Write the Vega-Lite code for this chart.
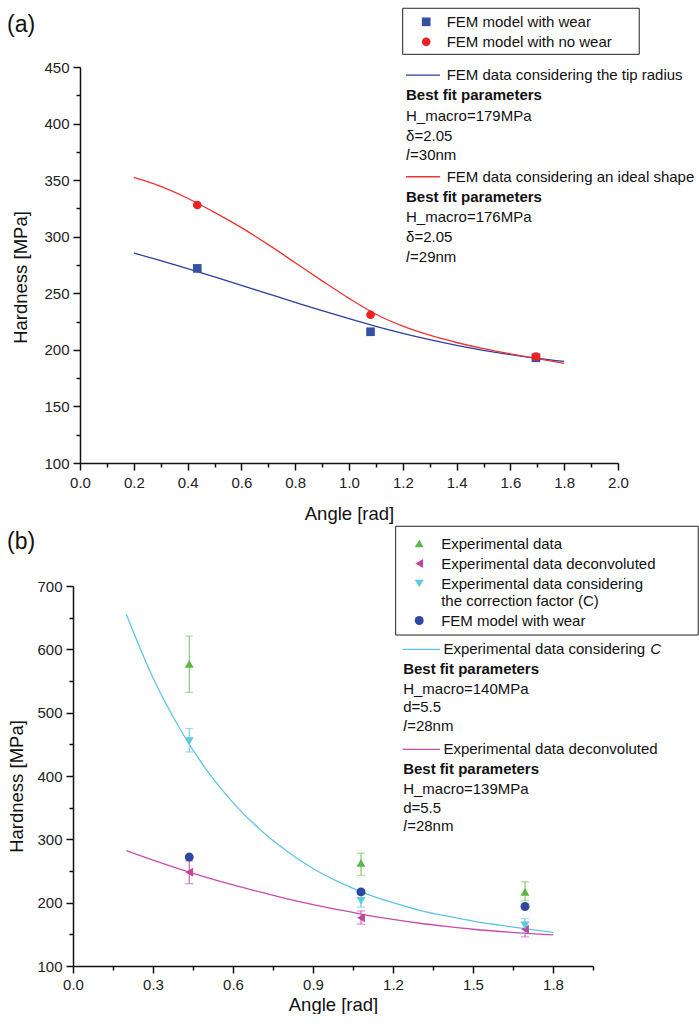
{
  "$schema": "https://vega.github.io/schema/vega-lite/v6.json",
  "padding": {"left": 7, "top": 7, "right": 0, "bottom": 0},
  "columns": 1,
  "spacing": 2,
  "resolve": {
    "scale": {"color": "independent", "shape": "independent", "stroke": "independent", "fill": "independent"},
    "legend": {"color": "independent", "shape": "independent"}
  },
  "datasets": {
    "fitA": [
      {"x": 0.2, "h": 285.5, "curve": "tip"}, {"x": 0.3, "h": 278.8, "curve": "tip"}, {"x": 0.4, "h": 271.8, "curve": "tip"},
      {"x": 0.5, "h": 264.5, "curve": "tip"}, {"x": 0.6, "h": 257.0, "curve": "tip"}, {"x": 0.7, "h": 249.5, "curve": "tip"},
      {"x": 0.8, "h": 242.0, "curve": "tip"}, {"x": 0.9, "h": 234.6, "curve": "tip"}, {"x": 1.0, "h": 227.5, "curve": "tip"},
      {"x": 1.1, "h": 220.8, "curve": "tip"}, {"x": 1.2, "h": 214.6, "curve": "tip"}, {"x": 1.3, "h": 209.0, "curve": "tip"},
      {"x": 1.4, "h": 204.0, "curve": "tip"}, {"x": 1.5, "h": 199.6, "curve": "tip"}, {"x": 1.6, "h": 195.8, "curve": "tip"},
      {"x": 1.7, "h": 192.5, "curve": "tip"}, {"x": 1.8, "h": 189.8, "curve": "tip"},
      {"x": 0.2, "h": 352.4, "curve": "ideal"}, {"x": 0.3, "h": 344.5, "curve": "ideal"}, {"x": 0.4, "h": 334.0, "curve": "ideal"},
      {"x": 0.5, "h": 321.5, "curve": "ideal"}, {"x": 0.6, "h": 308.0, "curve": "ideal"}, {"x": 0.7, "h": 293.0, "curve": "ideal"},
      {"x": 0.8, "h": 277.0, "curve": "ideal"}, {"x": 0.9, "h": 261.0, "curve": "ideal"}, {"x": 1.0, "h": 245.5, "curve": "ideal"},
      {"x": 1.1, "h": 231.5, "curve": "ideal"}, {"x": 1.2, "h": 221.0, "curve": "ideal"}, {"x": 1.3, "h": 213.0, "curve": "ideal"},
      {"x": 1.4, "h": 206.5, "curve": "ideal"}, {"x": 1.5, "h": 201.0, "curve": "ideal"}, {"x": 1.6, "h": 196.5, "curve": "ideal"},
      {"x": 1.7, "h": 192.3, "curve": "ideal"}, {"x": 1.8, "h": 188.0, "curve": "ideal"}
    ],
    "ptsA": [
      {"x": 0.436, "h": 272, "series": "FEM model with wear"},
      {"x": 1.08, "h": 216, "series": "FEM model with wear"},
      {"x": 1.695, "h": 193, "series": "FEM model with wear"},
      {"x": 0.436, "h": 328, "series": "FEM model with no wear"},
      {"x": 1.08, "h": 231, "series": "FEM model with no wear"},
      {"x": 1.695, "h": 194, "series": "FEM model with no wear"}
    ],
    "boxA": [{"x": 1.1996, "x2": 2.0789, "h": 501.9, "h2": 461.2}],
    "keyA": [
      {"x": 1.212, "x2": 1.338, "h": 442.9, "curve": "tip"},
      {"x": 1.212, "x2": 1.338, "h": 353.0, "curve": "ideal"}
    ],
    "textA": [
      {"x": 1.363, "h": 442.9, "t": "FEM data considering the tip radius", "s": "normal"},
      {"x": 1.212, "h": 425.0, "t": "Best fit parameters", "s": "bold"},
      {"x": 1.212, "h": 406.7, "t": "H_macro=179MPa", "s": "normal"},
      {"x": 1.212, "h": 389.0, "t": "δ=2.05", "s": "normal"},
      {"x": 1.212, "h": 372.2, "t": "l", "s": "ital"},
      {"x": 1.212, "h": 372.2, "t": "=30nm", "s": "post"},
      {"x": 1.363, "h": 353.0, "t": "FEM data considering an ideal shape", "s": "normal"},
      {"x": 1.212, "h": 335.4, "t": "Best fit parameters", "s": "bold"},
      {"x": 1.212, "h": 317.4, "t": "H_macro=176MPa", "s": "normal"},
      {"x": 1.212, "h": 299.7, "t": "δ=2.05", "s": "normal"},
      {"x": 1.212, "h": 282.1, "t": "l", "s": "ital"},
      {"x": 1.212, "h": 282.1, "t": "=29nm", "s": "post"},
      {"x": -0.271, "h": 487, "t": "(a)", "s": "panel"}
    ],
    "fitB": [
      {"x": 0.2, "h": 655, "curve": "fitC"}, {"x": 0.3, "h": 555, "curve": "fitC"}, {"x": 0.4, "h": 475, "curve": "fitC"},
      {"x": 0.5, "h": 410, "curve": "fitC"}, {"x": 0.6, "h": 358, "curve": "fitC"}, {"x": 0.7, "h": 316, "curve": "fitC"},
      {"x": 0.8, "h": 282, "curve": "fitC"}, {"x": 0.9, "h": 254, "curve": "fitC"}, {"x": 1.0, "h": 232, "curve": "fitC"},
      {"x": 1.1, "h": 214, "curve": "fitC"}, {"x": 1.2, "h": 200, "curve": "fitC"}, {"x": 1.3, "h": 188, "curve": "fitC"},
      {"x": 1.4, "h": 179, "curve": "fitC"}, {"x": 1.5, "h": 171, "curve": "fitC"}, {"x": 1.6, "h": 164.5, "curve": "fitC"},
      {"x": 1.7, "h": 158.5, "curve": "fitC"}, {"x": 1.8, "h": 153, "curve": "fitC"},
      {"x": 0.2, "h": 282, "curve": "fitD"}, {"x": 0.3, "h": 267, "curve": "fitD"}, {"x": 0.4, "h": 253, "curve": "fitD"},
      {"x": 0.5, "h": 240, "curve": "fitD"}, {"x": 0.6, "h": 228, "curve": "fitD"}, {"x": 0.7, "h": 217, "curve": "fitD"},
      {"x": 0.8, "h": 206.5, "curve": "fitD"}, {"x": 0.9, "h": 197, "curve": "fitD"}, {"x": 1.0, "h": 188.5, "curve": "fitD"},
      {"x": 1.1, "h": 180.5, "curve": "fitD"}, {"x": 1.2, "h": 173.5, "curve": "fitD"}, {"x": 1.3, "h": 167.5, "curve": "fitD"},
      {"x": 1.4, "h": 162.5, "curve": "fitD"}, {"x": 1.5, "h": 158, "curve": "fitD"}, {"x": 1.6, "h": 154.5, "curve": "fitD"},
      {"x": 1.7, "h": 151.5, "curve": "fitD"}, {"x": 1.8, "h": 149, "curve": "fitD"}
    ],
    "ptsB": [
      {"x": 0.436, "h": 577, "lo": 532, "hi": 621, "series": "Experimental data"},
      {"x": 1.08, "h": 263, "lo": 243, "hi": 278, "series": "Experimental data"},
      {"x": 1.695, "h": 217, "lo": 203, "hi": 233, "series": "Experimental data"},
      {"x": 0.436, "h": 248, "lo": 230, "hi": 266, "series": "Experimental data deconvoluted"},
      {"x": 1.08, "h": 176, "lo": 166, "hi": 187, "series": "Experimental data deconvoluted"},
      {"x": 1.695, "h": 158, "lo": 146, "hi": 169, "series": "Experimental data deconvoluted"},
      {"x": 0.436, "h": 455, "lo": 438, "hi": 475, "series": "Experimental data considering the correction factor (C)"},
      {"x": 1.08, "h": 203, "lo": 193, "hi": 213, "series": "Experimental data considering the correction factor (C)"},
      {"x": 1.695, "h": 164, "lo": 153, "hi": 175, "series": "Experimental data considering the correction factor (C)"},
      {"x": 0.436, "h": 272, "series": "FEM model with wear"},
      {"x": 1.08, "h": 217, "series": "FEM model with wear"},
      {"x": 1.695, "h": 194, "series": "FEM model with wear"}
    ],
    "boxB": [{"x": 1.21, "x2": 2.3446, "h": 794.3, "h2": 622.6}],
    "keyB": [
      {"x": 1.236, "x2": 1.376, "h": 600.0, "curve": "fitC"},
      {"x": 1.236, "x2": 1.376, "h": 442.1, "curve": "fitD"}
    ],
    "textB": [
      {"x": 1.389, "h": 600.0, "t": "Experimental data considering", "s": "normal"},
      {"x": 2.165, "h": 600.0, "t": "C", "s": "ital"},
      {"x": 1.238, "h": 568.5, "t": "Best fit parameters", "s": "bold"},
      {"x": 1.238, "h": 538.0, "t": "H_macro=140MPa", "s": "normal"},
      {"x": 1.238, "h": 509.0, "t": "d=5.5", "s": "normal"},
      {"x": 1.238, "h": 479.0, "t": "l", "s": "ital"},
      {"x": 1.238, "h": 479.0, "t": "=28nm", "s": "post"},
      {"x": 1.389, "h": 442.1, "t": "Experimental data deconvoluted", "s": "normal"},
      {"x": 1.238, "h": 410.5, "t": "Best fit parameters", "s": "bold"},
      {"x": 1.238, "h": 380.0, "t": "H_macro=139MPa", "s": "normal"},
      {"x": 1.238, "h": 350.0, "t": "d=5.5", "s": "normal"},
      {"x": 1.238, "h": 321.0, "t": "l", "s": "ital"},
      {"x": 1.238, "h": 321.0, "t": "=28nm", "s": "post"},
      {"x": -0.2475, "h": 769.5, "t": "(b)", "s": "panel"}
    ]
  },
  "concat": [
    {
      "width": 538,
      "height": 396,
      "resolve": {"axis": {"x": "independent", "y": "independent"}},
      "layer": [
        {
          "data": {"name": "fitA"},
          "mark": {"type": "line", "strokeWidth": 1.3, "interpolate": "monotone"},
          "encoding": {
            "x": {"field": "x", "type": "quantitative", "scale": {"domain": [0, 2], "nice": false, "zero": false},
                  "axis": {"orient": "bottom", "values": [0, 0.2, 0.4, 0.6, 0.8, 1.0, 1.2, 1.4, 1.6, 1.8, 2.0], "format": ".1f", "title": "Angle [rad]", "titlePadding": 14, "labelPadding": 5}},
            "y": {"field": "h", "type": "quantitative", "scale": {"domain": [100, 450], "nice": false, "zero": false},
                  "axis": {"orient": "left", "values": [100, 150, 200, 250, 300, 350, 400, 450], "title": "Hardness [MPa]", "titlePadding": 13, "titleY": 210}},
            "stroke": {"field": "curve", "type": "nominal", "scale": {"domain": ["tip", "ideal"], "range": ["#2a3f9e", "#ee3333"]}, "legend": null}
          }
        },
        {
          "data": {"name": "boxA"},
          "mark": {"type": "rect", "filled": false, "stroke": "#222", "strokeWidth": 1},
          "encoding": {
            "x": {"field": "x", "type": "quantitative", "axis": null},
            "x2": {"field": "x2"},
            "y": {"field": "h", "type": "quantitative", "axis": null},
            "y2": {"field": "h2"}
          }
        },
        {
          "data": {"name": "ptsA"},
          "mark": {"type": "point", "filled": true, "opacity": 1, "size": 75},
          "encoding": {
            "x": {"field": "x", "type": "quantitative",
                  "axis": {"orient": "bottom", "values": [0.1, 0.3, 0.5, 0.7, 0.9, 1.1, 1.3, 1.5, 1.7, 1.9], "labels": false, "domain": false, "tickSize": 4, "title": null}},
            "y": {"field": "h", "type": "quantitative",
                  "axis": {"orient": "left", "values": [125, 175, 225, 275, 325, 375, 425], "labels": false, "domain": false, "tickSize": 4, "title": null}},
            "color": {"field": "series", "type": "nominal",
                      "scale": {"domain": ["FEM model with wear", "FEM model with no wear"], "range": ["#3451a5", "#ee2222"]},
                      "legend": {"orient": "none", "legendX": 322.7, "legendY": -58.7, "title": null, "padding": 6,
                                 "labelFontSize": 15, "labelLimit": 500, "labelColor": "#111", "symbolOffset": 10, "labelOffset": 13, "rowPadding": 4, "symbolSize": 75}},
            "shape": {"field": "series", "type": "nominal",
                      "scale": {"domain": ["FEM model with wear", "FEM model with no wear"], "range": ["square", "circle"]}}
          }
        },
        {
          "data": {"name": "keyA"},
          "mark": {"type": "rule", "strokeWidth": 1.3},
          "encoding": {
            "x": {"field": "x", "type": "quantitative", "axis": null},
            "x2": {"field": "x2"},
            "y": {"field": "h", "type": "quantitative", "axis": null},
            "stroke": {"field": "curve", "type": "nominal", "legend": null}
          }
        },
        {
          "data": {"name": "textA"},
          "transform": [{"filter": "datum.s == 'normal'"}],
          "mark": {"type": "text", "align": "left", "baseline": "middle", "fontSize": 15, "color": "#111"},
          "encoding": {
            "x": {"field": "x", "type": "quantitative", "axis": null},
            "y": {"field": "h", "type": "quantitative", "axis": null},
            "text": {"field": "t"}
          }
        },
        {
          "data": {"name": "textA"},
          "transform": [{"filter": "datum.s == 'bold'"}],
          "mark": {"type": "text", "align": "left", "baseline": "middle", "fontSize": 15, "fontWeight": "bold", "color": "#111"},
          "encoding": {
            "x": {"field": "x", "type": "quantitative", "axis": null},
            "y": {"field": "h", "type": "quantitative", "axis": null},
            "text": {"field": "t"}
          }
        },
        {
          "data": {"name": "textA"},
          "transform": [{"filter": "datum.s == 'ital'"}],
          "mark": {"type": "text", "align": "left", "baseline": "middle", "fontSize": 15, "fontStyle": "italic", "color": "#111"},
          "encoding": {
            "x": {"field": "x", "type": "quantitative", "axis": null},
            "y": {"field": "h", "type": "quantitative", "axis": null},
            "text": {"field": "t"}
          }
        },
        {
          "data": {"name": "textA"},
          "transform": [{"filter": "datum.s == 'post'"}],
          "mark": {"type": "text", "align": "left", "baseline": "middle", "fontSize": 15, "dx": 4, "color": "#111"},
          "encoding": {
            "x": {"field": "x", "type": "quantitative", "axis": null},
            "y": {"field": "h", "type": "quantitative", "axis": null},
            "text": {"field": "t"}
          }
        },
        {
          "data": {"name": "textA"},
          "transform": [{"filter": "datum.s == 'panel'"}],
          "mark": {"type": "text", "align": "left", "baseline": "middle", "fontSize": 23, "color": "#111"},
          "encoding": {
            "x": {"field": "x", "type": "quantitative", "axis": null},
            "y": {"field": "h", "type": "quantitative", "axis": null},
            "text": {"field": "t"}
          }
        }
      ]
    },
    {
      "width": 520,
      "height": 380,
      "resolve": {"axis": {"x": "independent", "y": "independent"}},
      "layer": [
        {
          "data": {"name": "fitB"},
          "mark": {"type": "line", "strokeWidth": 1.3, "interpolate": "monotone"},
          "encoding": {
            "x": {"field": "x", "type": "quantitative", "scale": {"domain": [0, 1.95], "range": [-7, 513], "nice": false, "zero": false},
                  "axis": {"orient": "bottom", "values": [0, 0.3, 0.6, 0.9, 1.2, 1.5, 1.8], "format": ".1f", "title": "Angle [rad]", "titlePadding": 3, "labelPadding": 4}},
            "y": {"field": "h", "type": "quantitative", "scale": {"domain": [100, 700], "nice": false, "zero": false},
                  "axis": {"orient": "left", "offset": 7, "values": [100, 200, 300, 400, 500, 600, 700], "title": "Hardness [MPa]", "titlePadding": 10, "titleY": 200}},
            "stroke": {"field": "curve", "type": "nominal",
                       "scale": {"domain": ["fitC", "fitD", "Experimental data", "Experimental data deconvoluted", "Experimental data considering the correction factor (C)"],
                                 "range": ["#5ec5e3", "#c94ba8", "#8fd07e", "#d070bb", "#7fd3e8"]}, "legend": null}
          }
        },
        {
          "data": {"name": "boxB"},
          "mark": {"type": "rect", "filled": false, "stroke": "#222", "strokeWidth": 1},
          "encoding": {
            "x": {"field": "x", "type": "quantitative", "axis": null},
            "x2": {"field": "x2"},
            "y": {"field": "h", "type": "quantitative", "axis": null},
            "y2": {"field": "h2"}
          }
        },
        {
          "data": {"name": "ptsB"},
          "transform": [{"filter": "isValid(datum.lo)"}],
          "mark": {"type": "rule", "strokeWidth": 1.3},
          "encoding": {
            "x": {"field": "x", "type": "quantitative",
                  "axis": {"orient": "bottom", "values": [0.15, 0.45, 0.75, 1.05, 1.35, 1.65, 1.95], "labels": false, "domain": false, "tickSize": 4, "title": null}},
            "y": {"field": "lo", "type": "quantitative",
                  "axis": {"orient": "left", "offset": 7, "values": [150, 250, 350, 450, 550, 650], "labels": false, "domain": false, "tickSize": 4, "title": null}},
            "y2": {"field": "hi"},
            "stroke": {"field": "series", "type": "nominal", "legend": null}
          }
        },
        {
          "data": {"name": "ptsB"},
          "transform": [{"filter": "isValid(datum.lo)"}],
          "mark": {"type": "tick", "orient": "horizontal", "size": 8, "thickness": 1.3},
          "encoding": {
            "x": {"field": "x", "type": "quantitative", "axis": null},
            "y": {"field": "lo", "type": "quantitative", "axis": null},
            "fill": {"field": "series", "type": "nominal",
                     "scale": {"domain": ["Experimental data", "Experimental data deconvoluted", "Experimental data considering the correction factor (C)"],
                               "range": ["#8fd07e", "#d070bb", "#7fd3e8"]}, "legend": null}
          }
        },
        {
          "data": {"name": "ptsB"},
          "transform": [{"filter": "isValid(datum.hi)"}],
          "mark": {"type": "tick", "orient": "horizontal", "size": 8, "thickness": 1.3},
          "encoding": {
            "x": {"field": "x", "type": "quantitative", "axis": null},
            "y": {"field": "hi", "type": "quantitative", "axis": null},
            "fill": {"field": "series", "type": "nominal", "legend": null}
          }
        },
        {
          "data": {"name": "ptsB"},
          "mark": {"type": "point", "filled": true, "opacity": 1, "size": 80},
          "encoding": {
            "x": {"field": "x", "type": "quantitative", "axis": null},
            "y": {"field": "h", "type": "quantitative", "axis": null},
            "color": {"field": "series", "type": "nominal",
                      "scale": {"domain": ["Experimental data", "Experimental data deconvoluted", "Experimental data considering the correction factor (C)", "FEM model with wear"],
                                "range": ["#5cb848", "#c0449c", "#5ccbe0", "#2c48a0"]},
                      "legend": {"orient": "none", "legendX": 311.7, "legendY": -57, "title": null, "padding": 7,
                                 "labelFontSize": 15, "labelLimit": 500, "labelColor": "#111", "symbolOffset": 13, "labelOffset": 14.5, "rowPadding": 4, "symbolSize": 80,
                                 "labelExpr": "datum.label == 'Experimental data considering the correction factor (C)' ? ['Experimental data considering', ' the correction factor (C)'] : datum.label"}},
            "shape": {"field": "series", "type": "nominal",
                      "scale": {"domain": ["Experimental data", "Experimental data deconvoluted", "Experimental data considering the correction factor (C)", "FEM model with wear"],
                                "range": ["triangle-up", "triangle-left", "triangle-down", "circle"]}}
          }
        },
        {
          "data": {"name": "keyB"},
          "mark": {"type": "rule", "strokeWidth": 1.3},
          "encoding": {
            "x": {"field": "x", "type": "quantitative", "axis": null},
            "x2": {"field": "x2"},
            "y": {"field": "h", "type": "quantitative", "axis": null},
            "stroke": {"field": "curve", "type": "nominal", "legend": null}
          }
        },
        {
          "data": {"name": "textB"},
          "transform": [{"filter": "datum.s == 'normal'"}],
          "mark": {"type": "text", "align": "left", "baseline": "middle", "fontSize": 15, "color": "#111"},
          "encoding": {
            "x": {"field": "x", "type": "quantitative", "axis": null},
            "y": {"field": "h", "type": "quantitative", "axis": null},
            "text": {"field": "t"}
          }
        },
        {
          "data": {"name": "textB"},
          "transform": [{"filter": "datum.s == 'bold'"}],
          "mark": {"type": "text", "align": "left", "baseline": "middle", "fontSize": 15, "fontWeight": "bold", "color": "#111"},
          "encoding": {
            "x": {"field": "x", "type": "quantitative", "axis": null},
            "y": {"field": "h", "type": "quantitative", "axis": null},
            "text": {"field": "t"}
          }
        },
        {
          "data": {"name": "textB"},
          "transform": [{"filter": "datum.s == 'ital'"}],
          "mark": {"type": "text", "align": "left", "baseline": "middle", "fontSize": 15, "fontStyle": "italic", "color": "#111"},
          "encoding": {
            "x": {"field": "x", "type": "quantitative", "axis": null},
            "y": {"field": "h", "type": "quantitative", "axis": null},
            "text": {"field": "t"}
          }
        },
        {
          "data": {"name": "textB"},
          "transform": [{"filter": "datum.s == 'post'"}],
          "mark": {"type": "text", "align": "left", "baseline": "middle", "fontSize": 15, "dx": 4, "color": "#111"},
          "encoding": {
            "x": {"field": "x", "type": "quantitative", "axis": null},
            "y": {"field": "h", "type": "quantitative", "axis": null},
            "text": {"field": "t"}
          }
        },
        {
          "data": {"name": "textB"},
          "transform": [{"filter": "datum.s == 'panel'"}],
          "mark": {"type": "text", "align": "left", "baseline": "middle", "fontSize": 23, "color": "#111"},
          "encoding": {
            "x": {"field": "x", "type": "quantitative", "axis": null},
            "y": {"field": "h", "type": "quantitative", "axis": null},
            "text": {"field": "t"}
          }
        }
      ]
    }
  ],
  "config": {
    "font": "Liberation Sans",
    "view": {"stroke": null},
    "axis": {
      "grid": false, "domainColor": "#111", "domainWidth": 1.5, "tickColor": "#111", "tickWidth": 1.5, "tickSize": 7,
      "labelFontSize": 15, "labelColor": "#222", "labelPadding": 4, "labelFont": "Liberation Sans", "labelFlush": false,
      "titleFontSize": 18.5, "titleFontWeight": "normal", "titleColor": "#111", "titleFont": "Liberation Sans"
    },
    "legend": {"labelFont": "Liberation Sans"}
  }
}
